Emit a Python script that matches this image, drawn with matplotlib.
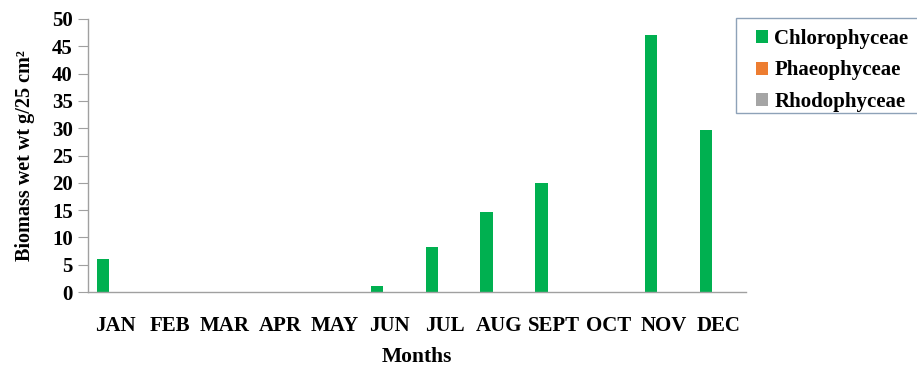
import matplotlib
matplotlib.use("Agg")
import matplotlib.pyplot as plt
from matplotlib.patches import Rectangle
import numpy as np

months = ["JAN", "FEB", "MAR", "APR", "MAY", "JUN", "JUL", "AUG", "SEPT", "OCT", "NOV", "DEC"]
chlorophyceae = [6.0, 0, 0, 0, 0, 1.1, 8.3, 14.6, 20.0, 0, 47.0, 29.7]
phaeophyceae = [0] * 12
rhodophyceae = [0] * 12
series_names = ["Chlorophyceae", "Phaeophyceae", "Rhodophyceae"]
series_colors = ["#00B050", "#ED7D31", "#A5A5A5"]
y_ticks = [0, 5, 10, 15, 20, 25, 30, 35, 40, 45, 50]

plt.rcParams["font.family"] = ["Liberation Serif", "DejaVu Serif"]
plt.rcParams["font.weight"] = "bold"

W, H = 917, 367
fig = plt.figure(figsize=(W / 100, H / 100), dpi=100)
ax = fig.add_axes([88 / W, 75 / H, (746 - 88) / W, (292 - 19) / H])

x = np.arange(len(months))
w = 0.228
bars = []
for i, (vals, name, col) in enumerate(zip([chlorophyceae, phaeophyceae, rhodophyceae],
                                          series_names, series_colors)):
    b = ax.bar(x + (i - 1) * w, vals, width=w, color=col, label=name, linewidth=0)
    bars.append(b)

ax.set_xlim(-0.5, len(months) - 0.5)
ax.set_ylim(0, 50)
ax.set_yticks(y_ticks)
ax.set_yticklabels([str(t) for t in y_ticks], fontsize=15, fontweight="bold")
ax.set_xticks(x)
ax.set_xticklabels(months, fontsize=15, fontweight="bold")
ax.tick_params(axis="x", length=0, pad=17)
ax.tick_params(axis="y", length=7, color="#A0A0A0", pad=4)

for s in ["top", "right"]:
    ax.spines[s].set_visible(False)
for s in ["left", "bottom"]:
    ax.spines[s].set_color("#A0A0A0")
    ax.spines[s].set_linewidth(1.0)

ax.set_ylabel("Biomass wet wt g/25 cm²", fontsize=14.5, fontweight="bold", labelpad=12)
ax.set_xlabel("Months", fontsize=15.5, fontweight="bold", labelpad=8)

# legend box, running off the right edge of the figure
fig.patches.append(Rectangle((736 / W, 1 - 113 / H), 200 / W, 95 / H,
                             transform=fig.transFigure, facecolor="white",
                             edgecolor="#8EA2B8", linewidth=1.0, zorder=0))

leg = fig.legend(handles=bars, labels=series_names, loc="upper left",
                 bbox_to_anchor=(756 / W, 1 - 29 / H), frameon=False,
                 prop={"size": 15, "weight": "bold"},
                 handlelength=0.58, handleheight=0.58, handletextpad=0.3,
                 labelspacing=0.55, borderpad=0, borderaxespad=0)

fig.savefig("out.png", dpi=100)
